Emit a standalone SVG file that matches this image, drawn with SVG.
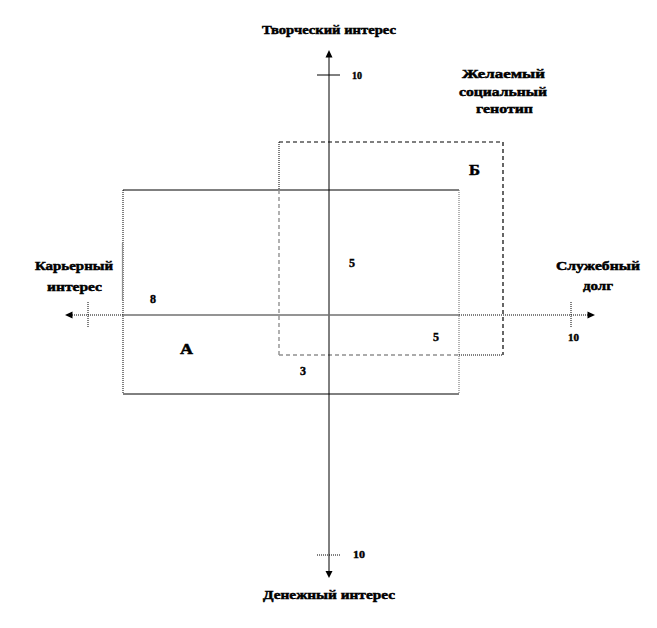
<svg xmlns="http://www.w3.org/2000/svg" width="657" height="628" viewBox="0 0 657 628">
<style>
.t{font-family:"Liberation Serif",serif;font-weight:bold;fill:#000;stroke:#000;stroke-width:0.5;font-size:13px}
.n{font-family:"Liberation Serif",serif;font-weight:bold;fill:#000;stroke:#000;stroke-width:0.4;font-size:12px}
.ax{stroke:#000;stroke-width:1;fill:none}
.dot{stroke:#000;stroke-width:1;stroke-dasharray:1 1;fill:none}
.gdot{stroke:#808080;stroke-width:1.2;stroke-dasharray:1 1;fill:none}
.dash{stroke:#000;stroke-width:1.2;stroke-dasharray:4 3;fill:none}
.gdash{stroke:#909090;stroke-width:1.4;stroke-dasharray:4 3;fill:none}
</style>
<rect width="657" height="628" fill="#fff"/>
<g id="rect-A">
<line x1="123" y1="190" x2="459" y2="190" class="ax"/>
<line x1="123" y1="394" x2="459" y2="394" class="ax"/>
<line x1="123" y1="190" x2="123" y2="394" class="dot"/>
<line x1="122.5" y1="243" x2="122.5" y2="300" stroke="#909090" stroke-width="1.2"/>
<line x1="459" y1="190" x2="459" y2="394" class="gdot"/>
</g>
<g id="rect-B">
<line x1="279" y1="142" x2="503" y2="142" class="dash"/>
<line x1="503" y1="142" x2="503" y2="355" class="dash"/>
<line x1="279" y1="142" x2="279" y2="190" class="dot"/>
<line x1="279" y1="190" x2="279" y2="355" class="gdash"/>
<line x1="279" y1="355" x2="459" y2="355" class="gdash"/>
<line x1="459" y1="355" x2="503" y2="355" class="dot"/>
</g>
<g id="axes">
<line x1="329" y1="57" x2="329" y2="572" class="ax"/>
<polygon points="329,50 325.5,57.5 332.5,57.5" fill="#000"/>
<polygon points="329,578 325.5,571 332.5,571" fill="#000"/>
<line x1="72" y1="315" x2="123" y2="315" class="dot"/>
<line x1="123" y1="315" x2="459" y2="315" stroke="#707070" stroke-width="1.6"/>
<line x1="459" y1="315" x2="588" y2="315" class="dot"/>
<polygon points="65,315 72.5,311.5 72.5,318.5" fill="#000"/>
<polygon points="595,315 587.5,311.5 587.5,318.5" fill="#000"/>
<line x1="317" y1="75" x2="340" y2="75" class="ax"/>
<line x1="317" y1="555" x2="340" y2="555" class="dot"/>
<line x1="88" y1="302" x2="88" y2="327" class="dot"/>
<line x1="571" y1="302" x2="571" y2="328" class="dot"/>
</g>
<g id="labels">
<text class="t" x="262" y="34" textLength="134" lengthAdjust="spacingAndGlyphs">Творческий интерес</text>
<text class="t" x="263" y="599" textLength="132" lengthAdjust="spacingAndGlyphs">Денежный интерес</text>
<text class="t" x="35" y="270" textLength="78" lengthAdjust="spacingAndGlyphs">Карьерный</text>
<text class="t" x="47" y="291" textLength="55" lengthAdjust="spacingAndGlyphs">интерес</text>
<text class="t" x="556" y="270" textLength="84" lengthAdjust="spacingAndGlyphs">Служебный</text>
<text class="t" x="583" y="290" textLength="30" lengthAdjust="spacingAndGlyphs">долг</text>
<text class="t" x="462" y="78" textLength="83" lengthAdjust="spacingAndGlyphs">Желаемый</text>
<text class="t" x="459" y="96" textLength="88" lengthAdjust="spacingAndGlyphs">социальный</text>
<text class="t" x="476" y="113" textLength="57" lengthAdjust="spacingAndGlyphs">генотип</text>
<text class="t" x="469" y="175" style="font-size:14px" textLength="11" lengthAdjust="spacingAndGlyphs">Б</text>
<text class="t" x="180" y="354" style="font-size:15px" textLength="13" lengthAdjust="spacingAndGlyphs">А</text>
<text class="n" x="352" y="79" style="font-size:10px" textLength="10" lengthAdjust="spacingAndGlyphs">10</text>
<text class="n" x="353" y="558" style="font-size:10px" textLength="12" lengthAdjust="spacingAndGlyphs">10</text>
<text class="n" x="568" y="341" style="font-size:10px" textLength="11" lengthAdjust="spacingAndGlyphs">10</text>
<text class="n" x="349" y="267">5</text>
<text class="n" x="433" y="341">5</text>
<text class="n" x="150" y="303">8</text>
<text class="n" x="300" y="375">3</text>
</g>
</svg>
